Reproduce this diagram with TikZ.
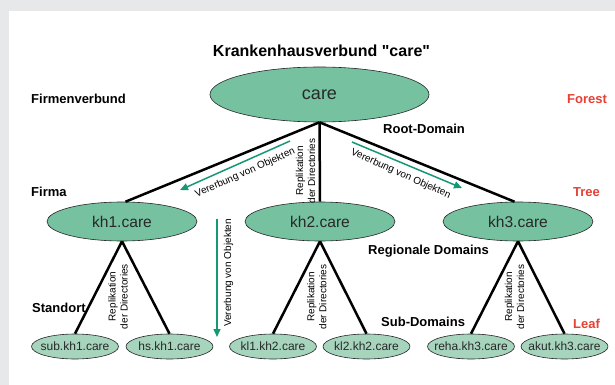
\documentclass[tikz,border=0pt]{standalone}
\usepackage{fontspec}
\setmainfont{Liberation Sans}[Ligatures=TeXOff]
\usetikzlibrary{shapes.geometric,arrows.meta}
\definecolor{bggray}{RGB}{230,232,234}
\definecolor{nodegreen}{RGB}{118,194,160}
\definecolor{leafgreen}{RGB}{166,212,189}
\definecolor{arrowgreen}{RGB}{22,152,118}
\definecolor{labelred}{RGB}{232,64,52}
\definecolor{nodetext}{RGB}{40,40,40}
\begin{document}
\begin{tikzpicture}[x=1pt,y=-1pt,
  bigell/.style={ellipse, draw=black!85, line width=0.6pt, fill=nodegreen, inner sep=0pt,
    minimum width=150pt, minimum height=39pt, text=nodetext, font=\fontsize{15.6}{18}\selectfont},
  leafell/.style={ellipse, draw=black!85, line width=0.6pt, fill=leafgreen, inner sep=0pt,
    minimum width=87pt, minimum height=25pt, text=nodetext, font=\fontsize{12}{14}\selectfont},
  lvl/.style={anchor=base west, inner sep=0pt, font=\bfseries\fontsize{13}{15}\selectfont},
  redlvl/.style={lvl, text=labelred},
  conn/.style={line width=2.5pt, black},
  inh/.style={arrowgreen, line width=1.5pt, -{Triangle[length=8pt,width=7pt]}},
  inhlabel/.style={inner sep=0pt, font=\fontsize{10}{12}\selectfont},
  repl/.style={inner sep=0pt, align=center, rotate=90, font=\fontsize{10}{12}\selectfont}]
\fill[bggray] (0,0) rectangle (615,385);
\fill[white] (8.5,11) rectangle (615,385);
\useasboundingbox (0,0) rectangle (615,385);

% title and level labels
\node[anchor=base, inner sep=0pt, font=\bfseries\fontsize{16}{19}\selectfont] (title) at (321.5,57) {Krankenhausverbund "care"};
\node[lvl] (firmenverbund) at (31,103) {Firmenverbund};
\node[redlvl] (forest) at (567,103) {Forest};
\node[lvl] (rootdomain) at (383,133) {Root-Domain};
\node[lvl] (firma) at (31,196.5) {Firma};
\node[redlvl] (tree) at (573,196.5) {Tree};
\node[lvl] (regional) at (368,254.5) {Regionale Domains};
\node[lvl] (standort) at (32,312) {Standort};
\node[lvl] (subdomains) at (381,326.5) {Sub-Domains};
\node[redlvl] (leaf) at (573,328) {Leaf};

% nodes
\node[bigell, minimum width=219pt, minimum height=55pt, font=\fontsize{18}{20}\selectfont] (care) at (319.5,94.5) {\makebox[0pt]{care}};
\node[bigell] (kh1) at (122,221.5) {\makebox[0pt]{kh1.care}};
\node[bigell] (kh2) at (320,221.5) {\makebox[0pt]{kh2.care}};
\node[bigell] (kh3) at (518,221.5) {\makebox[0pt]{kh3.care}};
\node[leafell] (sub) at (75,346.5) {\makebox[0pt]{sub.kh1.care}};
\node[leafell] (hs) at (169.5,346.5) {\makebox[0pt]{hs.kh1.care}};
\node[leafell] (kl1) at (273,346.5) {\makebox[0pt]{kl1.kh2.care}};
\node[leafell] (kl2) at (366.5,346.5) {\makebox[0pt]{kl2.kh2.care}};
\node[leafell] (reha) at (471,346.5) {\makebox[0pt]{reha.kh3.care}};
\node[leafell] (akut) at (564.5,346.5) {\makebox[0pt]{akut.kh3.care}};

% tree connectors
\draw[conn] (care.south) -- (kh1.80);
\draw[conn] (care.south) -- (kh2.north);
\draw[conn] (care.south) -- (kh3.100);
\draw[conn] (kh1.south) -- (sub.north);
\draw[conn] (kh1.south) -- (hs.north);
\draw[conn] (kh2.south) -- (kl1.north);
\draw[conn] (kh2.south) -- (kl2.north);
\draw[conn] (kh3.south) -- (reha.north);
\draw[conn] (kh3.south) -- (akut.north);

% replication labels
\node[repl] (repl0) at (305.5,171) {Replikation\\der Directories};
\node[repl] (repl1) at (118,296.5) {Replikation\\der Directories};
\node[repl] (repl2) at (316.7,297) {Replikation\\der Directories};
\node[repl] (repl3) at (514.5,297) {Replikation\\der Directories};

% inheritance arrows
\coordinate (la) at (290,141);
\coordinate (lb) at (180,190);
\coordinate (ra) at (352,142);
\coordinate (rb) at (462,188);
\coordinate (va) at (217,219);
\coordinate (vb) at (217,337);
\draw[inh] (la) -- (lb);
\draw[inh] (ra) -- (rb);
\draw[inh] (va) -- (vb);
\node[inhlabel, rotate=24] (inhl) at (245.2,173) {Vererbung von Objekten};
\node[inhlabel, rotate=-24] (inhr) at (400.8,174) {Vererbung von Objekten};
\node[inhlabel, rotate=90] (inhv) at (228.5,273) {Vererbung von Objekten};
\end{tikzpicture}
\end{document}
